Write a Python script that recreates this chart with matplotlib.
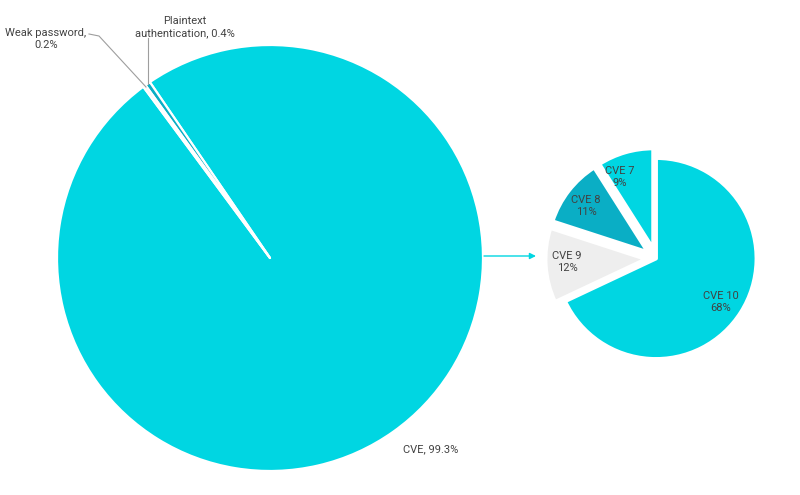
import matplotlib
matplotlib.use("Agg")
import matplotlib.pyplot as plt
import numpy as np

plt.rcParams['font.family'] = ['Roboto', 'DejaVu Sans']

# Data
main_labels = ["CVE", "Plaintext\nauthentication", "Weak password"]
main_values = [99.3, 0.4, 0.2]
sub_labels = ["CVE 10", "CVE 9", "CVE 8", "CVE 7"]
sub_values = [68, 12, 11, 9]

CYAN = "#00D6E2"
DARK = "#0AAEC5"
GRAY = "#EEEEEE"
TXT = "#424242"

W, H = 800, 495
fig = plt.figure(figsize=(8, 4.95), dpi=100)
ax = fig.add_axes([0, 0, 1, 1])

def Y(y):
    return H - y

# Main pie
c1 = (270, Y(258))
r1 = 213
ax.pie(main_values, colors=[CYAN, DARK, GRAY], startangle=126.5, counterclock=True,
       center=c1, radius=r1, frame=True,
       wedgeprops=dict(edgecolor='white', linewidth=1.6, joinstyle='round'))

# Sub pie (explode is in data units = pixels here)
c2 = (656, Y(258.5))
r2 = 100.5
pull = 10
ax.pie(sub_values, colors=[CYAN, GRAY, DARK, CYAN], startangle=90, counterclock=False,
       center=c2, radius=r2, frame=True, explode=[0, pull, pull, pull],
       wedgeprops=dict(edgecolor='white', linewidth=2.8, joinstyle='round'))

ax.set_xlim(0, W)
ax.set_ylim(0, H)
ax.set_aspect('equal')
ax.axis('off')

# Sub pie labels
sub_pos = [(721, 302), (567, 262), (586, 206), (620, 177)]
for lab, v, (x, y) in zip(sub_labels, sub_values, sub_pos):
    ax.text(x, Y(y), f"{lab}\n{v}%", ha='center', va='center', fontsize=8,
            color=TXT, linespacing=1.25)

# Main labels
ax.text(46, Y(38.5), f"Weak password,\n{main_values[2]}%", ha='center', va='center',
        fontsize=8, color=TXT, linespacing=1.25)
ax.text(185, Y(27), f"Plaintext\nauthentication, {main_values[1]}%", ha='center', va='center',
        fontsize=8, color=TXT, linespacing=1.25)
ax.text(431, Y(449), f"CVE, {main_values[0]}%", ha='center', va='center',
        fontsize=8, color=TXT)

# Leader lines
ax.plot([89, 99, 146], [Y(34), Y(36), Y(87)], color='#9E9E9E', lw=0.8)
ax.plot([148, 148], [Y(38), Y(84)], color='#9E9E9E', lw=0.8)

# Arrow
ax.annotate("", xy=(536, Y(256)), xytext=(484, Y(256)),
            arrowprops=dict(arrowstyle='-|>', color=CYAN, lw=1, mutation_scale=9,
                            shrinkA=0, shrinkB=0))

fig.savefig("out.png", dpi=100)
